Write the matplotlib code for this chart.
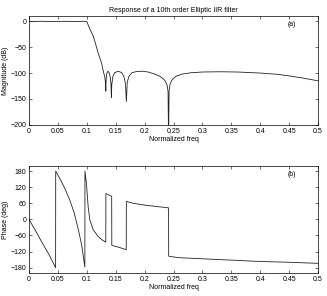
import numpy as np
import matplotlib
matplotlib.use("Agg")
import matplotlib.pyplot as plt

# ---------- DATA ----------
mag_f = [0.000, 0.020, 0.040, 0.060, 0.080, 0.095, 0.1000, 0.103, 0.106, 0.111,
         0.1155, 0.1195, 0.1253, 0.1293, 0.1312, 0.1322, 0.1328, 0.1334, 0.1345,
         0.1365, 0.1385, 0.1405, 0.1418, 0.1425, 0.1432, 0.1450, 0.1480, 0.1540,
         0.1600, 0.1640, 0.1668, 0.1684, 0.1700, 0.1730, 0.1780, 0.1860, 0.1960,
         0.2060, 0.2160, 0.2260, 0.2320, 0.2360, 0.2390, 0.2405, 0.2414, 0.2423,
         0.2440, 0.2480, 0.2546, 0.2650, 0.2800, 0.3000, 0.3300, 0.3600, 0.4000,
         0.4300, 0.4500, 0.4700, 0.5000]
mag_db = [-0.8, -0.2, -0.9, -0.2, -0.9, -0.1, -0.8, -9, -17, -28.5,
          -45, -61, -80, -100, -108, -118, -135, -112, -101,
          -96.5, -99, -108, -122, -147, -122, -107, -99.5, -96.5,
          -99, -106, -120, -155, -117, -106, -99.5, -97, -96.5,
          -98, -101.5, -106, -111, -116, -124, -136, -230, -134,
          -121, -112, -106, -102, -99.5, -98, -97.5, -98, -100,
          -102.5, -105.5, -109, -115]

# phase: separate branches between the wraps / jumps
ph_f = [
    [0.000, 0.012, 0.023, 0.035, 0.0460],
    [0.0462, 0.055, 0.062, 0.070, 0.078, 0.085, 0.091, 0.0966],
    [0.0968, 0.0994, 0.1023, 0.1052, 0.1110, 0.1196, 0.1260, 0.1328],
    [0.1330, 0.1380, 0.1430],
    [0.1432, 0.1500, 0.1580, 0.1682],
    [0.1684, 0.1800, 0.2000, 0.2200, 0.2414],
    [0.2416, 0.2460, 0.2600, 0.3000, 0.3500, 0.4000, 0.4500, 0.5000],
]
ph_deg = [
    [0, -45, -88, -133, -180],
    [180, 145, 115, 75, 25, -35, -95, -178],
    [180, 132, 47, -2, -39, -64, -76, -85],
    [96, 91, 86],
    [-97, -101, -106, -113],
    [67, 60, 53, 48, 43],
    [-137, -139, -143, -147, -152, -157, -160, -164],
]

xticks = [0, 0.05, 0.1, 0.15, 0.2, 0.25, 0.3, 0.35, 0.4, 0.45, 0.5]
xticklabels = ["0", "0.05", "0.1", "0.15", "0.2", "0.25", "0.3", "0.35", "0.4", "0.45", "0.5"]
mag_ticks = [0, -50, -100, -150, -200]
ph_ticks = [-180, -120, -60, 0, 60, 120, 180]
# ---------------------------------------------------

plt.rcParams['font.family'] = ['Liberation Sans', 'DejaVu Sans']
plt.rcParams['font.size'] = 5

fig = plt.figure(figsize=(3.27, 2.96), dpi=100)
ax1 = fig.add_axes([0.0887, 0.578, 0.884, 0.368])
ax2 = fig.add_axes([0.0887, 0.0777, 0.884, 0.3625])

lc = "#222222"


def style(ax):
    ax.set_xlim(0, 0.5)
    ax.set_xticks(xticks)
    ax.set_xticklabels(xticklabels)
    ax.tick_params(direction="in", length=2, width=0.4, top=True, right=True, pad=2,
                   labelsize=5)
    for s in ax.spines.values():
        s.set_linewidth(0.5)
    ax.set_xlabel("Normalized freq", fontsize=5, labelpad=1)


# ---------- MAGNITUDE ----------
ax1.plot(mag_f, mag_db, color=lc, lw=0.6)
ax1.set_ylim(-200, 10)
ax1.set_yticks(mag_ticks)
ax1.set_ylabel("Magnitude (dB)", fontsize=5, labelpad=1)
ax1.set_title("Response of a 10th order Elliptic IIR filter", fontsize=5, pad=3)
ax1.text(0.455, -6, "(a)", fontsize=5, ha="center", va="center")
style(ax1)

# ---------- PHASE ----------
px, py = [], []
for f, d in zip(ph_f, ph_deg):
    px += f
    py += d
ax2.plot(px, py, color=lc, lw=0.6)
ax2.set_ylim(-200, 200)
ax2.set_yticks(ph_ticks)
ax2.set_ylabel("Phase (deg)", fontsize=5, labelpad=1)
ax2.text(0.454, 169, "(b)", fontsize=5, ha="center", va="center")
style(ax2)

fig.savefig("out.png", dpi=100)
plt.close(fig)
